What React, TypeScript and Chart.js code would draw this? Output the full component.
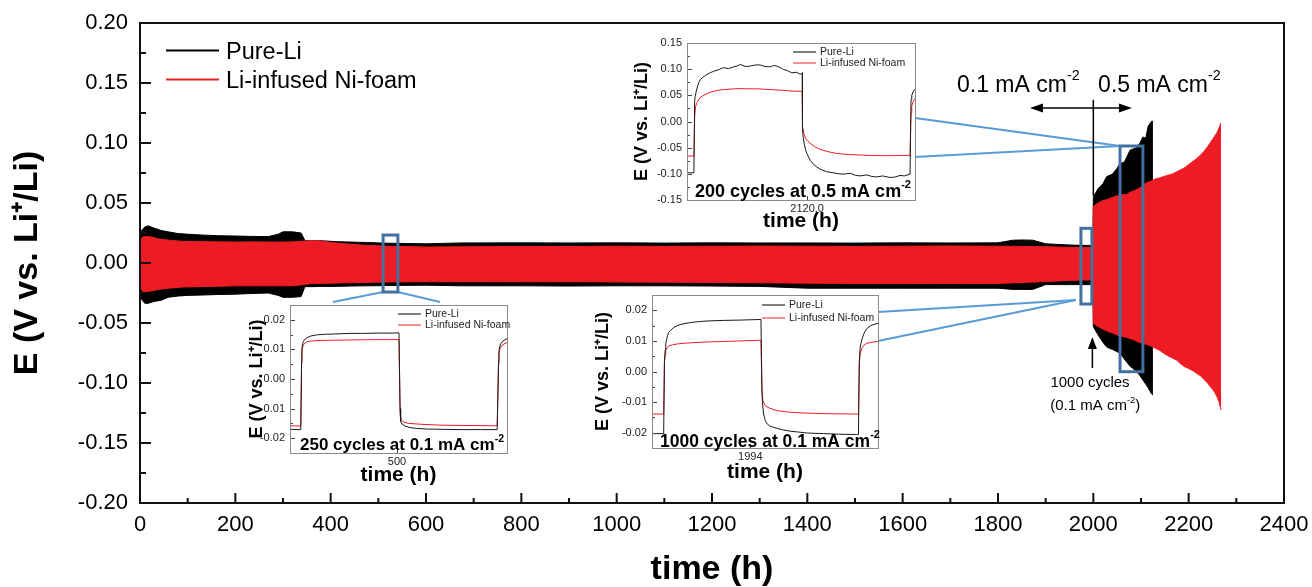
import React, { useEffect, useRef } from 'react';
import { Chart, registerables } from 'chart.js';

Chart.register(...registerables);

const FONT = "'Liberation Sans', Arial, Helvetica, sans-serif";
const RED = '#ed1c24';
const BLACK = '#000000';
const BOX_BLUE = '#41719c';
const LINE_BLUE = '#5b9bd5';

// ---------------- main chart data ----------------
const MAIN_X_TICKS = [0, 200, 400, 600, 800, 1000, 1200, 1400, 1600, 1800, 2000, 2200, 2400];
const MAIN_Y_TICKS = [-0.2, -0.15, -0.1, -0.05, 0, 0.05, 0.1, 0.15, 0.2];

// Li-infused Ni-foam envelope (upper / lower voltage of the cycling band)
const RED_TIME = [0, 4, 8, 20, 40, 60, 90, 130, 170, 200,
  240, 280, 320, 345, 360, 380, 400, 430, 470, 520,
  600, 700, 800, 900, 1000, 1100, 1200, 1300, 1400, 1500,
  1600, 1700, 1800, 1900, 1950, 1999, 2000, 2010, 2020, 2030,
  2042, 2050, 2060, 2070, 2077, 2085, 2095, 2105, 2112, 2120,
  2130, 2140, 2147, 2155, 2165, 2175, 2182, 2190, 2200, 2210,
  2217, 2225, 2232, 2240, 2245, 2250, 2255, 2260, 2264, 2268];
const RED_UPPER = [0.012, 0.021, 0.022, 0.022, 0.020, 0.019, 0.018, 0.0178, 0.0176, 0.0175,
  0.0176, 0.0174, 0.0176, 0.0182, 0.0186, 0.0184, 0.0170, 0.0160, 0.0148, 0.0140,
  0.0133, 0.0136, 0.0138, 0.0137, 0.0140, 0.0138, 0.0140, 0.0141, 0.0140, 0.0138,
  0.0140, 0.0142, 0.0140, 0.0136, 0.0130, 0.0128, 0.047, 0.050, 0.052, 0.053,
  0.055, 0.056, 0.057, 0.057, 0.059, 0.060, 0.062, 0.065, 0.067, 0.068,
  0.070, 0.071, 0.072, 0.073, 0.074, 0.076, 0.0775, 0.079, 0.082, 0.085,
  0.087, 0.090, 0.093, 0.097, 0.100, 0.103, 0.106, 0.109, 0.113, 0.1165];
const RED_LOWER = [-0.012, -0.023, -0.024, -0.0235, -0.022, -0.021, -0.020, -0.0197, -0.0193, -0.019,
  -0.019, -0.019, -0.019, -0.018, -0.017, -0.017, -0.0168, -0.0165, -0.0162, -0.0158,
  -0.0156, -0.0156, -0.0157, -0.0156, -0.0158, -0.016, -0.0162, -0.0165, -0.0168, -0.017,
  -0.017, -0.0172, -0.017, -0.0155, -0.0145, -0.014, -0.0503, -0.053, -0.055, -0.057,
  -0.0586, -0.060, -0.061, -0.062, -0.063, -0.064, -0.066, -0.067, -0.068, -0.069,
  -0.071, -0.073, -0.075, -0.077, -0.079, -0.081, -0.0836, -0.086, -0.088, -0.090,
  -0.092, -0.094, -0.097, -0.100, -0.103, -0.105, -0.108, -0.112, -0.116, -0.1225];

// Pure-Li envelope
const BLACK_TIME = [0, 3, 10, 17, 30, 45, 59, 80, 100, 130,
  160, 199, 230, 269, 290, 300, 320, 338, 346, 360,
  380, 409, 440, 478, 520, 600, 671, 800, 900, 1000,
  1100, 1200, 1300, 1400, 1500, 1600, 1700, 1800, 1831, 1850,
  1873, 1900, 1950, 1999, 2000, 2010, 2020, 2028, 2040, 2050,
  2056, 2065, 2077, 2090, 2098, 2104, 2110, 2115, 2122, 2125];
const BLACK_UPPER = [0.018, 0.027, 0.030, 0.031, 0.029, 0.027, 0.026, 0.0245, 0.024, 0.0233,
  0.0228, 0.0225, 0.0222, 0.022, 0.024, 0.026, 0.026, 0.025, 0.0186, 0.0186,
  0.0186, 0.0178, 0.0175, 0.0170, 0.0165, 0.0160, 0.0167, 0.0168, 0.0167, 0.0168,
  0.0166, 0.0168, 0.0167, 0.0167, 0.0166, 0.0168, 0.0167, 0.0168, 0.0190, 0.0192,
  0.0190, 0.0160, 0.0150, 0.0145, 0.055, 0.062, 0.066, 0.072, 0.074, 0.079,
  0.083, 0.084, 0.094, 0.096, 0.100, 0.105, 0.104, 0.114, 0.118, 0.118];
const BLACK_LOWER = [-0.018, -0.030, -0.0336, -0.0336, -0.032, -0.031, -0.0286, -0.0275, -0.027, -0.0267,
  -0.0263, -0.026, -0.0255, -0.025, -0.027, -0.0286, -0.0286, -0.028, -0.0197, -0.0197,
  -0.0195, -0.0195, -0.0192, -0.019, -0.0188, -0.0185, -0.019, -0.019, -0.0192, -0.019,
  -0.019, -0.0192, -0.0195, -0.021, -0.021, -0.021, -0.021, -0.021, -0.022, -0.022,
  -0.022, -0.018, -0.018, -0.018, -0.053, -0.060, -0.066, -0.070, -0.072, -0.074,
  -0.075, -0.080, -0.086, -0.090, -0.094, -0.0975, -0.101, -0.104, -0.109, -0.110];

// highlighted windows (time range, voltage range)
const BOX_START = [510, 1974, 2056];
const BOX_END = [541, 1997, 2104];
const BOX_TOP = [0.0233, 0.0289, 0.0975];
const BOX_BOTTOM = [-0.0242, -0.0342, -0.0906];

// ---------------- inset data ----------------
const INSET1_BLACK_T = [498.91, 499.02, 499.028, 499.031, 499.036, 499.045, 499.06, 499.085, 499.12, 499.18, 499.26, 499.36, 499.5, 499.65, 499.8, 499.95, 500.02, 500.031, 500.034, 500.04, 500.05, 500.08, 500.13, 500.2, 500.3, 500.45, 500.65, 500.85, 501.02, 501.034, 501.038, 501.05, 501.07, 501.1, 501.12];
const INSET1_BLACK = [-0.0170, -0.0171, 0.0060, 0.0098, 0.0115, 0.0126, 0.0134, 0.0140, 0.0145, 0.0149, 0.0151, 0.0152, 0.0154, 0.0154, 0.0155, 0.0155, 0.0156, -0.0100, -0.0128, -0.0143, -0.0152, -0.0159, -0.0164, -0.0167, -0.0169, -0.0170, -0.0171, -0.0171, -0.0171, 0.0060, 0.0095, 0.0115, 0.0126, 0.0133, 0.0136];
const INSET1_RED_T = [498.91, 499.02, 499.028, 499.031, 499.036, 499.045, 499.06, 499.085, 499.12, 499.2, 499.35, 499.55, 499.8, 500.02, 500.031, 500.035, 500.045, 500.07, 500.12, 500.25, 500.45, 500.7, 501.02, 501.034, 501.038, 501.05, 501.07, 501.1, 501.12];
const INSET1_RED = [-0.0158, -0.0159, 0.0055, 0.0088, 0.0103, 0.0114, 0.0121, 0.0126, 0.0128, 0.0130, 0.0131, 0.0132, 0.0133, 0.0133, -0.0100, -0.0128, -0.0140, -0.0146, -0.0150, -0.0153, -0.0156, -0.0157, -0.0158, 0.0050, 0.0085, 0.0104, 0.0114, 0.0120, 0.0122];

const INSET2_BLACK_T = [1992.99, 1993.11, 1993.118, 1993.125, 1993.131, 1993.138, 1993.15, 1993.162, 1993.179, 1993.21, 1993.248, 1993.3, 1993.385, 1993.47, 1993.556, 1993.726, 1993.897, 1994.0, 1994.11, 1994.12, 1994.125, 1994.137, 1994.154, 1994.171, 1994.2, 1994.274, 1994.34, 1994.41, 1994.5, 1994.581, 1994.752, 1994.92, 1995.094, 1995.112, 1995.121, 1995.13, 1995.146, 1995.17, 1995.197, 1995.24, 1995.282, 1995.313];
const INSET2_BLACK = [-0.0203, -0.0203, 0.0030, 0.0070, 0.0090, 0.0102, 0.0118, 0.0128, 0.0134, 0.0143, 0.0150, 0.0155, 0.0160, 0.0163, 0.0165, 0.0167, 0.0168, 0.0169, 0.0170, -0.0060, -0.0100, -0.0139, -0.0160, -0.0170, -0.0178, -0.0186, -0.0191, -0.0195, -0.0198, -0.0201, -0.0203, -0.0205, -0.0206, -0.0206, 0.0030, 0.0080, 0.0104, 0.0125, 0.0140, 0.0150, 0.0155, 0.0158];
const INSET2_RED_T = [1992.99, 1993.11, 1993.118, 1993.125, 1993.131, 1993.145, 1993.162, 1993.2, 1993.248, 1993.35, 1993.453, 1993.6, 1993.726, 1993.9, 1994.11, 1994.12, 1994.13, 1994.154, 1994.2, 1994.274, 1994.4, 1994.581, 1994.8, 1995.094, 1995.112, 1995.121, 1995.13, 1995.146, 1995.17, 1995.197, 1995.24, 1995.282, 1995.313];
const INSET2_RED = [-0.0139, -0.0139, 0.0030, 0.0055, 0.0069, 0.0078, 0.0083, 0.0087, 0.0090, 0.0093, 0.0095, 0.0097, 0.0098, 0.0100, 0.0102, -0.0060, -0.0095, -0.0112, -0.0120, -0.0128, -0.0133, -0.0136, -0.0138, -0.0139, -0.0139, 0.0030, 0.0060, 0.0075, 0.0086, 0.0092, 0.0095, 0.0097, 0.0098];

const INSET3_BLACK_T = [2118.886, 2118.95, 2118.957, 2118.962, 2118.972, 2118.985, 2118.994, 2119.01, 2119.025, 2119.05,
  2119.071, 2119.1, 2119.133, 2119.18, 2119.225, 2119.27, 2119.318, 2119.35, 2119.38, 2119.43,
  2119.472, 2119.52, 2119.565, 2119.61, 2119.657, 2119.69, 2119.719, 2119.75, 2119.781, 2119.82,
  2119.858, 2119.904, 2119.935, 2119.954, 2119.957, 2119.963, 2119.972, 2119.985, 2119.997, 2120.028,
  2120.06, 2120.09, 2120.13, 2120.182, 2120.24, 2120.3, 2120.336, 2120.4, 2120.45, 2120.491,
  2120.55, 2120.6, 2120.645, 2120.7, 2120.769, 2120.82, 2120.861, 2120.9, 2120.954, 2120.963,
  2120.97, 2120.985, 2121.0];
const INSET3_BLACK = [-0.098, -0.098, 0.040, 0.048, 0.058, 0.068, 0.074, 0.080, 0.083, 0.087,
  0.090, 0.093, 0.096, 0.099, 0.103, 0.101, 0.1045, 0.106, 0.109, 0.105,
  0.106, 0.108, 0.108, 0.105, 0.1045, 0.107, 0.106, 0.103, 0.0994, 0.097,
  0.093, 0.094, 0.090, 0.093, -0.016, -0.030, -0.042, -0.053, -0.061, -0.074,
  -0.082, -0.087, -0.092, -0.096, -0.098, -0.100, -0.1006, -0.099, -0.103, -0.104,
  -0.102, -0.105, -0.106, -0.104, -0.107, -0.106, -0.103, -0.104, -0.1006, 0.042,
  0.050, 0.058, 0.062];
const INSET3_RED_T = [2118.886, 2118.95, 2118.957, 2118.966, 2118.975, 2118.985, 2119.0, 2119.025, 2119.06, 2119.102,
  2119.16, 2119.225, 2119.3, 2119.349, 2119.45, 2119.565, 2119.65, 2119.781, 2119.87, 2119.954,
  2119.957, 2119.972, 2119.99, 2120.028, 2120.07, 2120.12, 2120.2, 2120.275, 2120.38, 2120.491,
  2120.6, 2120.738, 2120.85, 2120.954, 2120.963, 2120.97, 2120.985, 2121.0];
const INSET3_RED = [-0.066, -0.066, 0.010, 0.029, 0.034, 0.0385, 0.044, 0.048, 0.052, 0.0558,
  0.059, 0.061, 0.062, 0.0628, 0.0625, 0.0622, 0.061, 0.0596, 0.058, 0.0577,
  -0.0096, -0.0256, -0.034, -0.0417, -0.048, -0.0532, -0.058, -0.061, -0.063, -0.064,
  -0.065, -0.0654, -0.065, -0.0647, 0.016, 0.030, 0.0385, 0.044];

const INSET_SMALL_Y_TICKS = [-0.02, -0.01, 0, 0.01, 0.02];
const INSET_LARGE_Y_TICKS = [-0.15, -0.1, -0.05, 0, 0.05, 0.1, 0.15];

// ---------------- helpers ----------------
function pts(ts: number[], vs: number[]) {
  return ts.map((t, i) => ({ x: t, y: vs[i] }));
}
function mids(ticks: number[]) {
  const out: number[] = [];
  for (let i = 0; i < ticks.length - 1; i++) out.push((ticks[i] + ticks[i + 1]) / 2);
  return out;
}
function zeroPad(s: any) {
  s.paddingLeft = 0; s.paddingRight = 0; s.paddingTop = 0; s.paddingBottom = 0;
}

type Part = [string, boolean];
function drawRich(ctx: CanvasRenderingContext2D, parts: Part[], x: number, y: number, size: number, weight: string, align: 'left' | 'center') {
  const sup = size * 0.62;
  const fN = `${weight} ${size}px ${FONT}`;
  const fS = `${weight} ${sup}px ${FONT}`;
  let w = 0;
  parts.forEach(([t, s]) => { ctx.font = s ? fS : fN; w += ctx.measureText(t).width; });
  let cx = align === 'center' ? x - w / 2 : x;
  ctx.textAlign = 'left';
  ctx.textBaseline = 'alphabetic';
  parts.forEach(([t, s]) => {
    ctx.font = s ? fS : fN;
    ctx.fillText(t, cx, s ? y - size * 0.48 : y);
    cx += ctx.measureText(t).width;
  });
}
function line(ctx: CanvasRenderingContext2D, x0: number, y0: number, x1: number, y1: number) {
  ctx.beginPath(); ctx.moveTo(x0, y0); ctx.lineTo(x1, y1); ctx.stroke();
}
function arrowHead(ctx: CanvasRenderingContext2D, tipX: number, tipY: number, dx: number, dy: number, len: number, half: number) {
  const bx = tipX - dx * len, by = tipY - dy * len;
  ctx.beginPath();
  ctx.moveTo(tipX, tipY);
  ctx.lineTo(bx - dy * half, by + dx * half);
  ctx.lineTo(bx + dy * half, by - dx * half);
  ctx.closePath();
  ctx.fill();
}

// inset frames on the page (plot area of each inset)
type InsetSpec = {
  left: number; top: number; right: number; bottom: number;
  xMin: number; xMax: number; yMin: number; yMax: number;
  xTicks: number[]; xDecimals: number;
  yTicks: number[]; yDecimals: number;
  blackT: number[]; black: number[]; redT: number[]; red: number[];
  caption: Part[]; captionSize: number; captionDx: number; captionDy: number;
  legendDx: number; legendDy1: number; legendDy2: number;
  yTitleX: number; xTitleY: number;
};

const INSETS: InsetSpec[] = [
  {
    left: 290, top: 305, right: 507, bottom: 453,
    xMin: 498.91, xMax: 501.12, yMin: -0.025, yMax: 0.025,
    xTicks: [500], xDecimals: 0, yTicks: INSET_SMALL_Y_TICKS, yDecimals: 2,
    blackT: INSET1_BLACK_T, black: INSET1_BLACK, redT: INSET1_RED_T, red: INSET1_RED,
    caption: [['250 cycles at 0.1 mA cm', false], ['-2', true]], captionSize: 17, captionDx: 10, captionDy: -3,
    legendDx: -109, legendDy1: 9, legendDy2: 20, yTitleX: 257, xTitleY: 475,
  },
  {
    left: 652, top: 295, right: 878, bottom: 448,
    xMin: 1992.99, xMax: 1995.313, yMin: -0.025, yMax: 0.025,
    xTicks: [1994], xDecimals: 0, yTicks: INSET_SMALL_Y_TICKS, yDecimals: 2,
    blackT: INSET2_BLACK_T, black: INSET2_BLACK, redT: INSET2_RED_T, red: INSET2_RED,
    caption: [['1000 cycles at 0.1 mA cm', false], ['-2', true]], captionSize: 17.5, captionDx: 8, captionDy: -1.5,
    legendDx: -116, legendDy1: 10, legendDy2: 23, yTitleX: 603, xTitleY: 472,
  },
  {
    left: 687, top: 43, right: 915, bottom: 200,
    xMin: 2118.886, xMax: 2121.0, yMin: -0.15, yMax: 0.15,
    xTicks: [2120], xDecimals: 1, yTicks: INSET_LARGE_Y_TICKS, yDecimals: 2,
    blackT: INSET3_BLACK_T, black: INSET3_BLACK, redT: INSET3_RED_T, red: INSET3_RED,
    caption: [['200 cycles at 0.5 mA cm', false], ['-2', true]], captionSize: 18, captionDx: 8, captionDy: -3.3,
    legendDx: -122, legendDy1: 9, legendDy2: 20, yTitleX: 642, xTitleY: 221.7,
  },
];

// ---------------- main chart ----------------
const mainDecor = {
  id: 'mainDecor',
  afterDraw(chart: any) {
    const { ctx, chartArea: a } = chart;
    const X = (t: number) => chart.scales.x.getPixelForValue(t);
    const Y = (v: number) => chart.scales.y.getPixelForValue(v);
    ctx.save();
    // inward ticks
    ctx.strokeStyle = '#111';
    ctx.lineWidth = 2;
    ctx.beginPath();
    MAIN_X_TICKS.forEach((t) => { const p = X(t); ctx.moveTo(p, a.bottom); ctx.lineTo(p, a.bottom - 10); });
    mids(MAIN_X_TICKS).forEach((t) => { const p = X(t); ctx.moveTo(p, a.bottom); ctx.lineTo(p, a.bottom - 5); });
    MAIN_Y_TICKS.forEach((v) => { const p = Y(v); ctx.moveTo(a.left, p); ctx.lineTo(a.left + 11, p); });
    mids(MAIN_Y_TICKS).forEach((v) => { const p = Y(v); ctx.moveTo(a.left, p); ctx.lineTo(a.left + 6, p); });
    ctx.stroke();
    ctx.strokeRect(a.left, a.top, a.right - a.left, a.bottom - a.top);

    // legend
    ctx.lineWidth = 2;
    ctx.strokeStyle = BLACK;
    line(ctx, a.left + 26, a.top + 27.5, a.left + 79, a.top + 27.5);
    ctx.strokeStyle = RED;
    line(ctx, a.left + 26, a.top + 56.5, a.left + 79, a.top + 56.5);
    ctx.fillStyle = '#000';
    ctx.font = `23.5px ${FONT}`;
    ctx.textAlign = 'left';
    ctx.textBaseline = 'alphabetic';
    ctx.fillText('Pure-Li', a.left + 86, a.top + 35.5);
    ctx.fillText('Li-infused Ni-foam', a.left + 86, a.top + 64.5);

    // highlight boxes
    const boxes = BOX_START.map((t, i) => ({
      x0: X(t), x1: X(BOX_END[i]), y0: Y(BOX_TOP[i]), y1: Y(BOX_BOTTOM[i]),
    }));
    // connectors to insets
    ctx.strokeStyle = LINE_BLUE;
    ctx.lineWidth = 2;
    const [i1, i2, i3] = INSETS;
    const b1 = boxes[0], b2 = boxes[1], b3 = boxes[2];
    line(ctx, b1.x0, b1.y1, i1.left + 43, i1.top - 3);
    line(ctx, b1.x1, b1.y1, i1.left + 150, i1.top - 3);
    line(ctx, b2.x0 - 5, b2.y1 - 4, i2.right, i2.top + 17);
    line(ctx, b2.x0 - 5, b2.y1 - 4, i2.right, i2.top + 46);
    line(ctx, b3.x0, b3.y0, i3.right, i3.top + 75);
    line(ctx, b3.x0, b3.y0, i3.right, i3.top + 114);
    ctx.strokeStyle = BOX_BLUE;
    ctx.lineWidth = 3;
    boxes.forEach((b) => ctx.strokeRect(b.x0, b.y0, b.x1 - b.x0, b.y1 - b.y0));

    // current-density change marker
    ctx.strokeStyle = '#000';
    ctx.fillStyle = '#000';
    ctx.lineWidth = 1.5;
    const vx = X(2000);
    line(ctx, vx, Y(0.136), vx, Y(0.056));
    const ay = Y(0.1292);
    const ax0 = X(1867), ax1 = X(2081);
    line(ctx, ax0 + 8, ay, ax1 - 8, ay);
    arrowHead(ctx, ax0, ay, -1, 0, 13, 4.5);
    arrowHead(ctx, ax1, ay, 1, 0, 13, 4.5);
    const ux = X(1998);
    line(ctx, ux, Y(-0.0875), ux, Y(-0.068));
    arrowHead(ctx, ux, Y(-0.0617), 0, -1, 12, 4.5);

    ctx.fillStyle = '#000';
    drawRich(ctx, [['0.1 mA cm', false], ['-2', true]], X(1714), Y(0.1429), 23, 'normal', 'left');
    drawRich(ctx, [['0.5 mA cm', false], ['-2', true]], X(2010), Y(0.1429), 23, 'normal', 'left');
    ctx.font = `15px ${FONT}`;
    ctx.textAlign = 'center';
    ctx.textBaseline = 'alphabetic';
    ctx.fillText('1000 cycles', X(1993), Y(-0.1036));
    drawRich(ctx, [['(0.1 mA cm', false], ['-2', true], [')', false]], X(2004), Y(-0.1225), 15, 'normal', 'center');
    ctx.restore();
  },
};

function MainChart() {
  const ref = useRef<HTMLCanvasElement>(null);
  useEffect(() => {
    const common = { borderWidth: 1, pointRadius: 0, tension: 0 };
    const chart = new Chart(ref.current as HTMLCanvasElement, {
      type: 'line',
      data: {
        datasets: [
          { ...common, label: 'Li-infused Ni-foam', data: pts(RED_TIME, RED_UPPER), borderColor: RED, backgroundColor: RED, fill: '+1' },
          { ...common, label: 'Li-infused Ni-foam (low)', data: pts(RED_TIME, RED_LOWER), borderColor: RED, backgroundColor: RED, fill: false },
          { ...common, label: 'Pure-Li', data: pts(BLACK_TIME, BLACK_UPPER), borderColor: BLACK, backgroundColor: BLACK, fill: '+1' },
          { ...common, label: 'Pure-Li (low)', data: pts(BLACK_TIME, BLACK_LOWER), borderColor: BLACK, backgroundColor: BLACK, fill: false },
        ],
      } as any,
      options: {
        animation: false,
        responsive: false,
        devicePixelRatio: 1,
        events: [],
        layout: { padding: { left: 0, right: 28, top: 23, bottom: 0 } },
        plugins: { legend: { display: false }, tooltip: { enabled: false } },
        scales: {
          x: {
            type: 'linear', min: 0, max: 2400,
            afterBuildTicks: (s: any) => { s.ticks = MAIN_X_TICKS.map((v) => ({ value: v })); },
            afterFit: (s: any) => { s.height = 84; zeroPad(s); },
            grid: { display: false, drawTicks: false },
            border: { display: false },
            ticks: { font: { family: FONT, size: 22 }, color: '#000', padding: 9, maxRotation: 0, autoSkip: false, callback: (v: any) => String(v) },
            title: { display: true, text: 'time (h)', color: '#000', font: { family: FONT, size: 34, weight: 'bold', lineHeight: 1 }, padding: { top: 0, bottom: 0 } },
          },
          y: {
            type: 'linear', min: -0.2, max: 0.2,
            afterBuildTicks: (s: any) => { s.ticks = MAIN_Y_TICKS.map((v) => ({ value: v })); },
            afterFit: (s: any) => { s.width = 140; zeroPad(s); },
            grid: { display: false, drawTicks: false },
            border: { display: false },
            ticks: { font: { family: FONT, size: 22 }, color: '#000', padding: 12, autoSkip: false, callback: (v: any) => Number(v).toFixed(2) },
            title: { display: true, text: 'E (V vs. Li⁺/Li)', color: '#000', font: { family: FONT, size: 34, weight: 'bold', lineHeight: 1 }, padding: { top: 11, bottom: 0 } },
          },
        },
      } as any,
      plugins: [mainDecor],
    });
    return () => chart.destroy();
  }, []);
  return <canvas ref={ref} width={1312} height={587} style={{ position: 'absolute', left: 0, top: 0 }} />;
}

// ---------------- insets ----------------
function insetDecor(spec: InsetSpec) {
  return {
    id: 'insetDecor',
    beforeDraw(chart: any) {
      const { ctx, chartArea: a } = chart;
      ctx.save();
      ctx.fillStyle = '#fff';
      ctx.fillRect(a.left, a.top, a.right - a.left, a.bottom - a.top);
      ctx.restore();
    },
    afterDraw(chart: any) {
      const { ctx, chartArea: a } = chart;
      const X = (t: number) => chart.scales.x.getPixelForValue(t);
      const Y = (v: number) => chart.scales.y.getPixelForValue(v);
      ctx.save();
      ctx.strokeStyle = '#444';
      ctx.lineWidth = 1;
      ctx.beginPath();
      spec.yTicks.forEach((v) => { const p = Math.round(Y(v)) + 0.5; ctx.moveTo(a.left, p); ctx.lineTo(a.left + 5, p); });
      mids(spec.yTicks).forEach((v) => { const p = Math.round(Y(v)) + 0.5; ctx.moveTo(a.left, p); ctx.lineTo(a.left + 3, p); });
      spec.xTicks.forEach((t) => { const p = Math.round(X(t)) + 0.5; ctx.moveTo(p, a.bottom); ctx.lineTo(p, a.bottom - 4); });
      ctx.stroke();
      ctx.strokeStyle = '#8a8a8a';
      ctx.strokeRect(Math.round(a.left) + 0.5, Math.round(a.top) + 0.5, Math.round(a.right - a.left), Math.round(a.bottom - a.top));

      // legend
      const lx = a.right + spec.legendDx;
      ctx.lineWidth = 1;
      ctx.strokeStyle = BLACK;
      line(ctx, lx, a.top + spec.legendDy1, lx + 23, a.top + spec.legendDy1);
      ctx.strokeStyle = RED;
      line(ctx, lx, a.top + spec.legendDy2, lx + 23, a.top + spec.legendDy2);
      ctx.fillStyle = '#222';
      ctx.font = `10.5px ${FONT}`;
      ctx.textAlign = 'left';
      ctx.textBaseline = 'middle';
      ctx.fillText('Pure-Li', lx + 27, a.top + spec.legendDy1);
      ctx.fillText('Li-infused Ni-foam', lx + 27, a.top + spec.legendDy2);

      // caption
      ctx.fillStyle = '#000';
      drawRich(ctx, spec.caption, a.left + spec.captionDx, a.bottom + spec.captionDy, spec.captionSize, 'bold', 'left');
      ctx.restore();
    },
  };
}

function Inset({ spec }: { spec: InsetSpec }) {
  const ref = useRef<HTMLCanvasElement>(null);
  const padL = 60, padT = 6, padR = 6, padB = 40;
  const w = spec.right - spec.left + padL + padR;
  const h = spec.bottom - spec.top + padT + padB;
  useEffect(() => {
    const yTitlePad = spec.yTitleX - (spec.left - padL) - 9;
    const xTitlePad = (spec.bottom + padB) - spec.xTitleY - 10.5;
    const common = { borderWidth: 1, pointRadius: 0, tension: 0, fill: false };
    const chart = new Chart(ref.current as HTMLCanvasElement, {
      type: 'line',
      data: {
        datasets: [
          { ...common, label: 'Pure-Li', data: pts(spec.blackT, spec.black), borderColor: '#1a1a1a' },
          { ...common, label: 'Li-infused Ni-foam', data: pts(spec.redT, spec.red), borderColor: RED },
        ],
      } as any,
      options: {
        animation: false,
        responsive: false,
        devicePixelRatio: 1,
        events: [],
        layout: { padding: { left: 0, right: padR, top: padT, bottom: 0 } },
        plugins: { legend: { display: false }, tooltip: { enabled: false } },
        scales: {
          x: {
            type: 'linear', min: spec.xMin, max: spec.xMax,
            afterBuildTicks: (s: any) => { s.ticks = spec.xTicks.map((v) => ({ value: v })); },
            afterFit: (s: any) => { s.height = padB; zeroPad(s); },
            grid: { display: false, drawTicks: false },
            border: { display: false },
            ticks: { font: { family: FONT, size: 11 }, color: '#222', padding: 2.5, maxRotation: 0, autoSkip: false, callback: (v: any) => Number(v).toFixed(spec.xDecimals) },
            title: { display: true, text: 'time (h)', color: '#000', font: { family: FONT, size: 21, weight: 'bold', lineHeight: 1 }, padding: { top: 0, bottom: xTitlePad } },
          },
          y: {
            type: 'linear', min: spec.yMin, max: spec.yMax,
            afterBuildTicks: (s: any) => { s.ticks = spec.yTicks.map((v) => ({ value: v })); },
            afterFit: (s: any) => { s.width = padL; zeroPad(s); },
            grid: { display: false, drawTicks: false },
            border: { display: false },
            ticks: { font: { family: FONT, size: 11 }, color: '#222', padding: 5, autoSkip: false, callback: (v: any) => Number(v).toFixed(spec.yDecimals) },
            title: { display: true, text: 'E (V vs. Li⁺/Li)', color: '#000', font: { family: FONT, size: 18, weight: 'bold', lineHeight: 1 }, padding: { top: yTitlePad, bottom: 0 } },
          },
        },
      } as any,
      plugins: [insetDecor(spec)],
    });
    return () => chart.destroy();
  }, [spec]);
  return (
    <canvas ref={ref} width={w} height={h}
      style={{ position: 'absolute', left: spec.left - padL, top: spec.top - padT, width: w, height: h }} />
  );
}

export default function App() {
  return (
    <div style={{ position: 'absolute', left: 0, top: 0, width: 1312, height: 587, background: '#fff', overflow: 'hidden' }}>
      <MainChart />
      {INSETS.map((s, i) => <Inset key={i} spec={s} />)}
    </div>
  );
}
